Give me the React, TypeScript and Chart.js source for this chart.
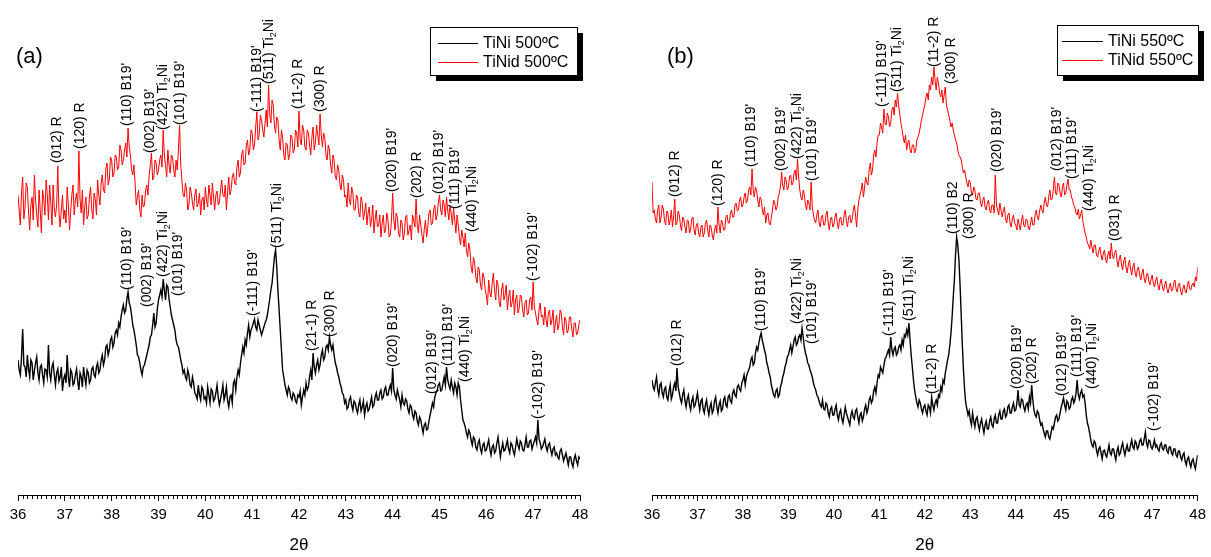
import React, { useEffect, useRef } from "react";
import { Chart, registerables } from "chart.js";

Chart.register(...registerables);

// ---------- data ----------
const START_2THETA = 36;
const STEP_2THETA = 0.025;
const X_MIN = 36;
const X_MAX = 48;

// (a) TiNi 500ºC (intensity, a.u.), 36.000 .. 48.000 step 0.025 (each row = 0.5°)
const tiniA = [
  135, 125, 120, 138, 166, 130, 128, 118, 140, 126, 118, 135, 132, 115, 124, 132, 138, 122, 115, 128,
  130, 120, 112, 126, 125, 118, 150, 122, 115, 128, 132, 120, 110, 122, 126, 114, 118, 128, 104, 116,
  120, 112, 140, 118, 108, 125, 122, 110, 112, 120, 126, 114, 105, 122, 118, 108, 128, 118, 110, 125,
  122, 112, 115, 126, 128, 120, 118, 128, 132, 122, 125, 135, 140, 130, 135, 148, 150, 140, 145, 155,
  158, 148, 152, 162, 165, 160, 172, 168, 178, 185, 190, 182, 185, 196, 203, 192, 188, 180, 170, 165,
  158, 150, 140, 138, 132, 125, 120, 128, 130, 135, 140, 145, 150, 158, 160, 170, 182, 168, 172, 186,
  195, 200, 205, 198, 216, 205, 195, 210, 208, 196, 188, 180, 175, 170, 165, 155, 150, 148, 142, 135,
  130, 122, 125, 118, 115, 125, 120, 110, 108, 118, 112, 102, 100, 96, 110, 100, 95, 108, 105, 96,
  98, 92, 108, 100, 92, 106, 104, 94, 96, 102, 110, 98, 90, 96, 102, 110, 95, 100, 108, 94,
  88, 98, 100, 92, 112, 115, 105, 118, 125, 120, 132, 140, 148, 142, 155, 150, 162, 170, 158, 165,
  168, 172, 176, 168, 165, 175, 170, 165, 160, 164, 168, 172, 175, 180, 188, 196, 205, 212, 225, 238,
  245, 228, 205, 185, 165, 145, 125, 118, 110, 105, 100, 108, 105, 98, 95, 102, 100, 94, 92, 100,
  98, 104, 90, 98, 105, 100, 112, 105, 108, 118, 125, 115, 142, 128, 122, 130, 135, 125, 130, 140,
  145, 135, 138, 148, 150, 145, 158, 150, 145, 150, 140, 132, 128, 122, 118, 112, 108, 102, 100, 92,
  95, 86, 88, 95, 98, 90, 85, 94, 92, 86, 82, 90, 95, 84, 88, 94, 80, 88, 92, 84,
  86, 92, 98, 88, 90, 98, 102, 95, 95, 102, 105, 96, 98, 105, 108, 100, 100, 106, 110, 104,
  127, 105, 100, 96, 105, 100, 95, 88, 100, 92, 90, 96, 94, 86, 82, 90, 88, 80, 76, 84,
  82, 74, 70, 78, 75, 68, 62, 70, 72, 65, 66, 74, 80, 86, 92, 88, 98, 102, 105, 110,
  112, 104, 105, 112, 118, 110, 128, 115, 110, 106, 115, 108, 102, 112, 108, 100, 112, 108, 95, 85,
  75, 72, 68, 62, 58, 65, 62, 55, 50, 58, 56, 48, 45, 52, 55, 46, 42, 50, 52, 44,
  45, 50, 55, 46, 40, 48, 50, 42, 44, 52, 58, 48, 38, 46, 52, 44, 45, 50, 55, 46,
  42, 52, 50, 44, 40, 48, 56, 50, 46, 54, 52, 45, 44, 50, 58, 48, 48, 54, 55, 46,
  50, 54, 58, 52, 75, 56, 52, 46, 48, 52, 56, 48, 44, 50, 52, 45, 40, 46, 48, 40,
  42, 38, 36, 44, 46, 40, 34, 38, 42, 36, 30, 38, 38, 32, 28, 36, 40, 34, 30, 38,
  36,
];

// (a) TiNid 500ºC
const tinidA = [
  300, 285, 270, 302, 318, 276, 288, 312, 308, 282, 265, 290, 298, 275, 320, 295, 280, 268, 305, 284,
  262, 305, 296, 280, 315, 300, 275, 310, 293, 270, 310, 286, 278, 290, 329, 282, 268, 285, 300, 276,
  285, 272, 308, 290, 265, 284, 300, 310, 280, 295, 302, 288, 344, 296, 282, 305, 270, 288, 298, 276,
  280, 298, 308, 285, 276, 302, 296, 280, 315, 300, 290, 312, 320, 305, 302, 326, 332, 310, 315, 338,
  335, 318, 322, 340, 338, 325, 328, 350, 345, 330, 335, 345, 352, 338, 367, 348, 340, 325, 320, 330,
  312, 290, 298, 305, 285, 278, 300, 288, 290, 305, 310, 300, 320, 330, 342, 315, 318, 335, 332, 320,
  325, 335, 340, 328, 365, 340, 330, 318, 345, 330, 322, 340, 338, 325, 318, 335, 325, 345, 370, 330,
  315, 300, 298, 312, 305, 285, 290, 308, 302, 292, 285, 300, 306, 288, 292, 302, 280, 295, 298, 285,
  308, 295, 288, 310, 300, 290, 312, 298, 285, 300, 304, 290, 292, 305, 315, 300, 298, 310, 285, 302,
  318, 300, 305, 318, 322, 312, 310, 328, 335, 318, 322, 340, 345, 330, 332, 350, 355, 340, 345, 365,
  362, 345, 350, 368, 383, 355, 360, 380, 375, 365, 358, 372, 385, 368, 410, 380, 372, 395, 390, 370,
  362, 378, 375, 355, 345, 365, 358, 340, 335, 352, 350, 335, 340, 360, 358, 342, 345, 365, 362, 348,
  384, 355, 350, 370, 365, 348, 345, 365, 362, 350, 340, 358, 368, 345, 352, 370, 360, 350, 381, 360,
  348, 362, 358, 340, 335, 350, 345, 330, 322, 340, 335, 318, 315, 330, 325, 310, 305, 320, 315, 298,
  300, 288, 312, 295, 290, 308, 302, 285, 285, 300, 298, 282, 278, 298, 292, 275, 283, 292, 270, 282,
  288, 268, 275, 290, 262, 275, 285, 268, 270, 280, 258, 272, 280, 262, 265, 282, 275, 258, 260, 275,
  302, 275, 265, 282, 278, 262, 258, 275, 272, 255, 262, 278, 280, 260, 265, 270, 255, 280, 275, 268,
  296, 270, 262, 280, 270, 260, 252, 266, 275, 258, 268, 282, 285, 270, 272, 285, 290, 275, 280, 292,
  300, 285, 280, 295, 290, 278, 298, 285, 275, 290, 282, 270, 287, 275, 262, 280, 270, 258, 250, 265,
  258, 248, 262, 245, 238, 252, 245, 228, 222, 238, 232, 218, 212, 228, 225, 210, 205, 222, 218, 205,
  200, 190, 215, 202, 198, 212, 222, 205, 195, 215, 210, 192, 188, 205, 212, 195, 200, 210, 185, 198,
  205, 188, 192, 205, 180, 195, 200, 182, 186, 200, 198, 185, 178, 192, 195, 180, 182, 196, 198, 185,
  213, 188, 182, 175, 170, 185, 192, 178, 180, 170, 188, 175, 168, 182, 185, 170, 175, 185, 162, 172,
  180, 165, 170, 185, 182, 168, 160, 178, 175, 162, 165, 178, 178, 165, 158, 172, 172, 160, 162, 170,
  175,
];

// (b) TiNi 550ºC
const tiniB = [
  115, 108, 105, 112, 118, 106, 100, 110, 112, 102, 98, 106, 108, 98, 95, 104, 110, 96, 100, 108,
  112, 104, 127, 108, 102, 96, 92, 100, 105, 94, 88, 96, 100, 90, 85, 94, 98, 88, 90, 96,
  102, 92, 85, 94, 96, 86, 82, 90, 95, 86, 80, 88, 92, 82, 85, 94, 98, 88, 82, 90,
  94, 84, 86, 95, 98, 90, 88, 98, 100, 94, 92, 102, 105, 100, 98, 108, 110, 106, 104, 112,
  115, 120, 110, 118, 122, 125, 128, 135, 138, 130, 132, 142, 148, 145, 152, 158, 162, 155, 150, 145,
  140, 132, 128, 122, 118, 110, 105, 100, 98, 104, 106, 98, 100, 108, 112, 118, 122, 128, 132, 138,
  140, 145, 150, 142, 148, 155, 158, 150, 152, 158, 160, 155, 167, 158, 148, 142, 138, 132, 130, 125,
  122, 118, 112, 108, 105, 100, 98, 94, 90, 88, 95, 86, 85, 92, 90, 82, 78, 86, 88, 80,
  80, 86, 90, 80, 75, 82, 85, 76, 72, 80, 88, 82, 78, 74, 70, 80, 84, 78, 76, 84,
  86, 78, 72, 80, 82, 74, 78, 86, 90, 82, 86, 95, 98, 92, 95, 104, 108, 102, 112, 120,
  118, 128, 125, 122, 130, 136, 138, 142, 145, 140, 158, 145, 140, 146, 148, 140, 142, 148, 150, 145,
  155, 150, 160, 158, 165, 160, 172, 155, 140, 128, 115, 105, 98, 92, 88, 95, 92, 86, 82, 88,
  90, 84, 80, 90, 88, 82, 98, 90, 85, 92, 95, 90, 100, 98, 108, 104, 115, 112, 122, 128,
  135, 140, 150, 162, 178, 198, 215, 240, 258, 250, 235, 210, 180, 150, 125, 105, 92, 86, 80, 84,
  75, 70, 82, 74, 68, 76, 78, 70, 65, 72, 76, 68, 62, 70, 74, 66, 66, 74, 78, 70,
  68, 76, 80, 72, 72, 80, 84, 76, 76, 84, 86, 78, 80, 88, 90, 82, 82, 88, 92, 84,
  85, 92, 105, 90, 88, 96, 95, 88, 84, 90, 92, 86, 98, 92, 110, 95, 85, 80, 78, 84,
  82, 75, 70, 72, 66, 62, 58, 64, 64, 58, 56, 62, 68, 66, 72, 78, 80, 74, 76, 82,
  88, 92, 97, 90, 85, 94, 92, 86, 88, 95, 98, 92, 95, 102, 115, 100, 96, 102, 105, 98,
  100, 92, 80, 72, 68, 62, 55, 50, 48, 54, 52, 45, 40, 46, 48, 42, 36, 44, 45, 40,
  38, 44, 50, 42, 40, 46, 46, 40, 35, 44, 48, 40, 42, 48, 52, 45, 40, 46, 50, 44,
  44, 50, 55, 48, 46, 54, 52, 46, 48, 54, 56, 50, 50, 56, 63, 52, 48, 55, 54, 48,
  46, 50, 55, 48, 50, 46, 44, 50, 52, 46, 45, 50, 50, 44, 42, 48, 48, 42, 40, 46,
  46, 40, 38, 44, 44, 38, 35, 40, 42, 34, 30, 36, 38, 32, 28, 34, 36, 30, 26, 34,
  40,
];

// (b) TiNid 550ºC
const tinidB = [
  313, 282, 285, 276, 272, 285, 290, 272, 278, 290, 286, 275, 270, 284, 282, 270, 275, 285, 268, 278,
  296, 270, 272, 284, 280, 270, 264, 278, 276, 268, 262, 275, 274, 262, 266, 276, 278, 265, 260, 270,
  272, 262, 258, 268, 270, 258, 262, 272, 275, 265, 258, 270, 268, 260, 255, 265, 270, 262, 288, 270,
  262, 275, 272, 265, 265, 278, 280, 272, 272, 282, 285, 278, 278, 290, 292, 284, 285, 295, 298, 288,
  290, 298, 302, 292, 295, 305, 308, 300, 326, 305, 298, 308, 305, 295, 288, 298, 296, 286, 280, 288,
  272, 280, 282, 272, 270, 278, 285, 295, 292, 285, 288, 298, 302, 308, 323, 310, 305, 318, 315, 305,
  308, 318, 320, 310, 312, 322, 325, 315, 336, 318, 305, 298, 295, 305, 300, 290, 285, 295, 292, 285,
  313, 288, 280, 275, 272, 280, 285, 272, 268, 278, 280, 270, 270, 280, 284, 272, 265, 276, 278, 268,
  270, 278, 282, 272, 266, 276, 278, 270, 270, 280, 285, 274, 268, 278, 280, 272, 275, 284, 290, 280,
  268, 285, 295, 300, 305, 312, 298, 308, 318, 312, 310, 325, 332, 320, 325, 340, 345, 338, 352, 360,
  360, 372, 368, 362, 386, 372, 370, 382, 378, 368, 372, 385, 388, 380, 395, 388, 402, 390, 380, 372,
  365, 358, 352, 360, 345, 352, 355, 345, 342, 350, 350, 342, 345, 355, 358, 362, 368, 375, 380, 385,
  390, 398, 402, 395, 410, 405, 418, 410, 428, 415, 405, 418, 412, 402, 398, 405, 392, 400, 408, 390,
  385, 380, 375, 368, 372, 365, 360, 355, 352, 345, 340, 338, 335, 328, 322, 325, 318, 312, 308, 315,
  312, 302, 300, 308, 305, 296, 295, 302, 302, 292, 288, 295, 298, 288, 285, 292, 295, 285, 282, 290,
  290, 282, 320, 290, 285, 280, 292, 285, 278, 284, 288, 276, 272, 280, 282, 272, 268, 276, 280, 272,
  270, 265, 276, 270, 265, 274, 280, 270, 268, 276, 275, 268, 265, 272, 278, 270, 270, 280, 285, 278,
  275, 284, 290, 285, 282, 292, 298, 290, 288, 298, 305, 295, 296, 305, 318, 302, 300, 312, 310, 302,
  298, 308, 312, 300, 302, 310, 316, 305, 305, 298, 295, 290, 288, 282, 280, 286, 276, 280, 285, 274,
  268, 262, 258, 252, 250, 246, 255, 248, 242, 250, 250, 240, 238, 244, 248, 240, 235, 242, 245, 236,
  232, 240, 244, 236, 252, 240, 236, 242, 245, 235, 228, 236, 240, 230, 225, 234, 238, 228, 222, 230,
  235, 226, 220, 228, 232, 222, 218, 226, 228, 220, 215, 222, 226, 216, 212, 220, 222, 214, 210, 216,
  220, 212, 208, 214, 218, 210, 205, 212, 216, 208, 204, 210, 214, 206, 202, 208, 212, 204, 205, 212,
  215, 206, 203, 210, 212, 204, 200, 206, 210, 204, 202, 210, 214, 206, 205, 210, 212, 208, 218, 214,
  228,
];

// peak labels: [2θ, intensity at label start, text]  ("_2" = subscript 2)
type Peak = [number, number, string];

const peaksRedA: Peak[] = [
  [36.83, 331, "(012) R"],
  [37.32, 345, "(120) R"],
  [38.33, 368, "(110) B19'"],
  [38.82, 341, "(002) B19'"],
  [39.10, 364, "(422) Ti_2Ni"],
  [39.46, 369, "(101) B19'"],
  [41.10, 382, "(-111) B19'"],
  [41.36, 410, "(511) Ti_2Ni"],
  [41.98, 385, "(11-2) R"],
  [42.45, 382, "(300) R"],
  [43.99, 302, "(020) B19'"],
  [44.52, 296, "(202) R"],
  [44.99, 300, "(012) B19'"],
  [45.33, 285, "(111) B19'"],
  [45.69, 262, "(440) Ti_2Ni"],
  [47.00, 213, "(-102) B19'"],
];

const peaksBlackA: Peak[] = [
  [38.33, 204, "(110) B19'"],
  [38.75, 187, "(002) B19'"],
  [39.10, 217, "(422) Ti_2Ni"],
  [39.42, 198, "(101) B19'"],
  [41.02, 178, "(-111) B19'"],
  [41.53, 246, "(511) Ti_2Ni"],
  [42.28, 143, "(21-1) R"],
  [42.66, 157, "(300) R"],
  [44.01, 127, "(020) B19'"],
  [44.84, 100, "(012) B19'"],
  [45.18, 128, "(111) B19'"],
  [45.55, 112, "(440) Ti_2Ni"],
  [47.10, 75, "(-102) B19'"],
];

const peaksRedB: Peak[] = [
  [36.50, 297, "(012) R"],
  [37.45, 288, "(120) R"],
  [38.17, 327, "(110) B19'"],
  [38.85, 323, "(002) B19'"],
  [39.20, 335, "(422) Ti_2Ni"],
  [39.53, 313, "(101) B19'"],
  [41.07, 387, "(-111) B19'"],
  [41.40, 402, "(511) Ti_2Ni"],
  [42.21, 427, "(11-2) R"],
  [42.58, 410, "(300) R"],
  [43.59, 322, "(020) B19'"],
  [44.91, 323, "(012) B19'"],
  [45.24, 315, "(111) B19'"],
  [45.61, 283, "(440) Ti_2Ni"],
  [46.18, 253, "(031) R"],
];

const peaksBlackB: Peak[] = [
  [36.55, 128, "(012) R"],
  [38.41, 163, "(110) B19'"],
  [39.20, 170, "(422) Ti_2Ni"],
  [39.53, 150, "(101) B19'"],
  [41.22, 158, "(-111) B19'"],
  [41.66, 173, "(511) Ti_2Ni"],
  [42.16, 100, "(11-2) R"],
  [42.63, 260, "(110) B2"],
  [42.98, 255, "(300) R"],
  [44.03, 105, "(020) B19'"],
  [44.36, 110, "(202) R"],
  [45.02, 98, "(012) B19'"],
  [45.35, 117, "(111) B19'"],
  [45.68, 105, "(440) Ti_2Ni"],
  [47.04, 63, "(-102) B19'"],
];

// ---------- drawing helpers ----------
const FONT = '"Liberation Sans", Arial, Helvetica, sans-serif';

function toXY(vals: number[]) {
  return vals.map((v, i) => ({ x: +(START_2THETA + i * STEP_2THETA).toFixed(3), y: v }));
}

function drawRich(ctx: CanvasRenderingContext2D, text: string, x: number, y: number, size: number) {
  const parts = text.split(/_(\d)/);
  let cx = x;
  parts.forEach((p, idx) => {
    if (!p) return;
    const sub = idx % 2 === 1;
    ctx.font = `${sub ? Math.round(size * 0.65) : size}px ${FONT}`;
    ctx.fillText(p, cx, y + (sub ? size * 0.3 : 0));
    cx += ctx.measureText(p).width;
  });
}

const xrdPlugin = {
  id: "xrdDecor",
  afterDraw(chart: any, _args: any, opts: any) {
    const { ctx, chartArea } = chart;
    const xs = chart.scales.x;
    const ys = chart.scales.y;
    ctx.save();
    // minor ticks
    ctx.strokeStyle = "#000";
    ctx.lineWidth = 1;
    ctx.beginPath();
    for (let k = 1; k < (X_MAX - X_MIN) * 10; k++) {
      if (k % 10 === 0) continue;
      const px = Math.round(xs.getPixelForValue(X_MIN + k * 0.1)) + 0.5;
      ctx.moveTo(px, chartArea.bottom);
      ctx.lineTo(px, chartArea.bottom + 4);
    }
    ctx.stroke();

    // peak labels
    ctx.fillStyle = "#000";
    ctx.textBaseline = "middle";
    ctx.textAlign = "left";
    for (const [lx, ly, text] of opts.peaks as Peak[]) {
      const px = xs.getPixelForValue(lx);
      const py = ys.getPixelForValue(ly);
      ctx.save();
      ctx.translate(px, py - 1);
      ctx.rotate(-Math.PI / 2);
      drawRich(ctx, text, 0, 0, 14);
      ctx.restore();
    }

    // panel letter
    ctx.font = `22px ${FONT}`;
    ctx.textBaseline = "middle";
    ctx.fillText(opts.letter, opts.letterX, 57);

    // legend with shadow
    const L = opts.legend;
    ctx.fillStyle = "#000";
    ctx.fillRect(L.x + 6, L.y + 6, L.w, L.h);
    ctx.fillStyle = "#fff";
    ctx.fillRect(L.x, L.y, L.w, L.h);
    ctx.strokeStyle = "#000";
    ctx.lineWidth = 1;
    ctx.strokeRect(L.x + 0.5, L.y + 0.5, L.w, L.h);
    const ds = chart.data.datasets;
    [L.row1, L.row2].forEach((ry: number, i: number) => {
      ctx.strokeStyle = ds[i].borderColor;
      ctx.lineWidth = 1;
      ctx.beginPath();
      ctx.moveTo(L.lineX1, ry + 0.5);
      ctx.lineTo(L.lineX2, ry + 0.5);
      ctx.stroke();
      ctx.fillStyle = "#000";
      ctx.font = `16px ${FONT}`;
      ctx.textBaseline = "middle";
      ctx.fillText(ds[i].label, L.textX, ry + 1);
    });
    ctx.restore();
  },
};

type PanelProps = {
  left: number;
  width: number;
  padLeft: number;
  padRight: number;
  black: number[];
  red: number[];
  blackLabel: string;
  redLabel: string;
  peaks: Peak[];
  letter: string;
  letterX: number;
  legend: any;
};

function XrdPanel(p: PanelProps) {
  const ref = useRef<HTMLCanvasElement>(null);
  useEffect(() => {
    const chart = new Chart(ref.current as HTMLCanvasElement, {
      type: "line",
      data: {
        datasets: [
          {
            label: p.blackLabel,
            data: toXY(p.black),
            borderColor: "#000000",
            borderWidth: 1.4,
            pointRadius: 0,
            tension: 0,
          },
          {
            label: p.redLabel,
            data: toXY(p.red),
            borderColor: "#ff0000",
            borderWidth: 1,
            pointRadius: 0,
            tension: 0,
          },
        ],
      },
      options: {
        animation: false,
        responsive: false,
        devicePixelRatio: 1,
        layout: { padding: { left: p.padLeft, right: p.padRight, top: 0, bottom: 0 } },
        scales: {
          x: {
            type: "linear",
            min: X_MIN,
            max: X_MAX,
            ticks: {
              stepSize: 1,
              autoSkip: false,
              maxRotation: 0,
              padding: 5,
              color: "#000",
              font: { family: FONT, size: 15 },
            },
            grid: { drawOnChartArea: false, drawTicks: true, tickLength: 6, color: "#000", lineWidth: 1 },
            border: { display: true, color: "#000", width: 1 },
            title: {
              display: true,
              text: "2θ",
              color: "#000",
              font: { family: FONT, size: 17 },
              padding: { top: 0, bottom: 1 },
            },
            afterFit: (s: any) => {
              s.height = 62;
            },
          },
          y: { display: false, min: 0, max: 495 },
        },
        plugins: {
          legend: { display: false },
          tooltip: { enabled: false },
          xrdDecor: { peaks: p.peaks, letter: p.letter, letterX: p.letterX, legend: p.legend },
        } as any,
      },
      plugins: [xrdPlugin],
    });
    return () => chart.destroy();
  }, []);
  return (
    <canvas
      ref={ref}
      width={p.width}
      height={557}
      style={{ position: "absolute", left: p.left, top: 0, width: p.width, height: 557 }}
    />
  );
}

export default function App() {
  return (
    <div style={{ position: "fixed", left: 0, top: 0, width: 1211, height: 557, background: "#fff", overflow: "hidden" }}>
      <XrdPanel
        left={0}
        width={610}
        padLeft={18}
        padRight={30}
        black={tiniA}
        red={tinidA}
        blackLabel="TiNi 500ºC"
        redLabel="TiNid 500ºC"
        peaks={[...peaksRedA, ...peaksBlackA]}
        letter="(a)"
        letterX={16}
        legend={{ x: 430, y: 27, w: 147, h: 48, row1: 43, row2: 62, lineX1: 438, lineX2: 478, textX: 483 }}
      />
      <XrdPanel
        left={610}
        width={601}
        padLeft={42}
        padRight={12}
        black={tiniB}
        red={tinidB}
        blackLabel="TiNi 550ºC"
        redLabel="TiNid 550ºC"
        peaks={[...peaksRedB, ...peaksBlackB]}
        letter="(b)"
        letterX={57}
        legend={{ x: 447, y: 25, w: 141, h: 50, row1: 41, row2: 60, lineX1: 452, lineX2: 493, textX: 498 }}
      />
    </div>
  );
}
